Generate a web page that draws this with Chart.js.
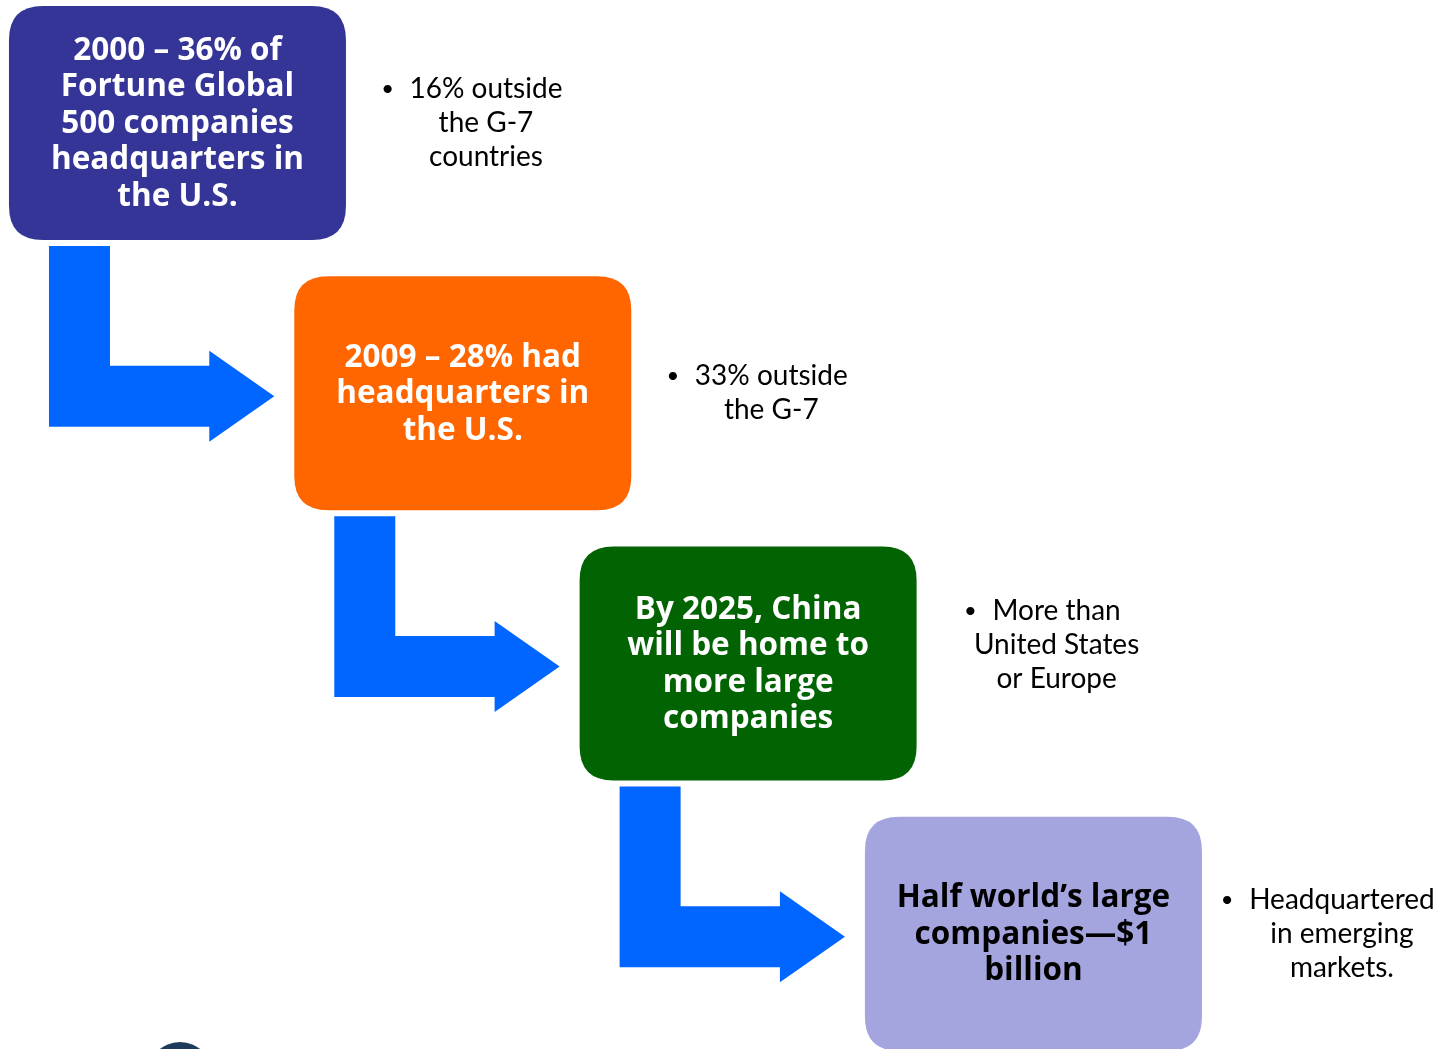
<!DOCTYPE html>
<html>
<head>
<meta charset="utf-8">
<script src="https://cdn.jsdelivr.net/npm/chart.js@4"></script>
<style>
    html, body { margin: 0; padding: 0; background: #ffffff; }
    #chart { display: block; }
</style>
</head>
<body>
<canvas id="chart" width="1448" height="1049"></canvas>
<script>
// Steps of the diagram (one box per step)
const steps = [0, 1, 2, 3];

// Text inside each box
const boxLines = [
    ["2000 \u2013 36% of", "Fortune Global", "500 companies", "headquarters in", "the U.S."],
    ["2009 \u2013 28% had", "headquarters in", "the U.S."],
    ["By 2025, China", "will be home to", "more large", "companies"],
    ["Half world\u2019s large", "companies\u2014$1", "billion"]
];

// Bullet note beside each box
const noteLines = [
    ["16% outside", "the G-7", "countries"],
    ["33% outside", "the G-7"],
    ["More than", "United States", "or Europe"],
    ["Headquartered", "in emerging", "markets."]
];

// Styling
const boxFill = ["#353598", "#ff6600", "#026302", "#a4a4de"];
const boxText = ["#ffffff", "#ffffff", "#ffffff", "#000000"];
const arrowColor = "#0066ff";
const BOX_W = 337, BOX_H = 234, RADIUS = 34;
const BOX_FONT = "bold 31.5px 'Open Sans', Lato, sans-serif";
const NOTE_FONT = "28px Lato, 'Open Sans', sans-serif";

document.addEventListener("DOMContentLoaded", () => {
    const canvas = document.getElementById("chart");

    function roundRect(ctx, x, y, w, h, r) {
        ctx.beginPath();
        ctx.moveTo(x + r, y);
        ctx.lineTo(x + w - r, y);
        ctx.quadraticCurveTo(x + w, y, x + w, y + r);
        ctx.lineTo(x + w, y + h - r);
        ctx.quadraticCurveTo(x + w, y + h, x + w - r, y + h);
        ctx.lineTo(x + r, y + h);
        ctx.quadraticCurveTo(x, y + h, x, y + h - r);
        ctx.lineTo(x, y + r);
        ctx.quadraticCurveTo(x, y, x + r, y);
        ctx.closePath();
    }

    // Draws the bent arrows, boxes and notes at the step positions given by the scales
    const flowPlugin = {
        id: "flow",
        afterDatasetsDraw(chart) {
            const ctx = chart.ctx;
            const xs = chart.scales.x, ys = chart.scales.y;
            const pts = steps.map(s => ({ x: xs.getPixelForValue(s), y: ys.getPixelForValue(s) }));

            ctx.save();

            // arrows
            ctx.fillStyle = arrowColor;
            for (let i = 0; i < pts.length - 1; i++) {
                const left = pts[i].x - BOX_W / 2 + 40;
                const top = pts[i].y + BOX_H / 2 + 6;
                const ay = pts[i + 1].y + 3;
                const nextLeft = pts[i + 1].x - BOX_W / 2;
                const back = nextLeft - 85, tip = nextLeft - 20;
                ctx.beginPath();
                ctx.moveTo(left, top);
                ctx.lineTo(left + 61, top);
                ctx.lineTo(left + 61, ay - 30.5);
                ctx.lineTo(back, ay - 30.5);
                ctx.lineTo(back, ay - 45.5);
                ctx.lineTo(tip, ay);
                ctx.lineTo(back, ay + 45.5);
                ctx.lineTo(back, ay + 30.5);
                ctx.lineTo(left, ay + 30.5);
                ctx.closePath();
                ctx.fill();
            }

            // boxes
            pts.forEach((p, i) => {
                roundRect(ctx, p.x - BOX_W / 2, p.y - BOX_H / 2, BOX_W, BOX_H, RADIUS);
                ctx.fillStyle = boxFill[i];
                ctx.fill();

                ctx.fillStyle = boxText[i];
                ctx.font = BOX_FONT;
                ctx.textAlign = "center";
                ctx.textBaseline = "middle";
                const lines = boxLines[i];
                const lh = 36.5;
                lines.forEach((t, k) => {
                    ctx.fillText(t, p.x, p.y + 1 + (k - (lines.length - 1) / 2) * lh);
                });

                // note
                const note = noteLines[i];
                const nx = p.x + BOX_W / 2 + 140;
                const nOff = i === 2 ? -19 : 0;
                ctx.fillStyle = "#000000";
                ctx.font = NOTE_FONT;
                note.forEach((t, k) => {
                    const ny = p.y + nOff + (k - (note.length - 1) / 2) * 34;
                    ctx.fillText(t, nx, ny);
                    if (k === 0) {
                        const w = ctx.measureText(t).width;
                        ctx.font = "22px Lato, sans-serif";
                        ctx.fillText("\u2022", nx - w / 2 - 22, ny);
                        ctx.font = NOTE_FONT;
                    }
                });
            });

            // partial logo at the bottom edge
            ctx.fillStyle = "#1f3b5c";
            ctx.beginPath();
            ctx.ellipse(180, 1078, 34, 36, 0, 0, Math.PI * 2);
            ctx.fill();

            ctx.restore();
        }
    };

    new Chart(canvas.getContext("2d"), {
        type: "scatter",
        data: {
            datasets: [{
                label: "Steps",
                data: steps.map(s => ({ x: s, y: s })),
                pointRadius: 0
            }]
        },
        options: {
            responsive: false,
            animation: false,
            layout: { padding: 0 },
            plugins: {
                legend: { display: false },
                tooltip: { enabled: false }
            },
            scales: {
                x: { type: "linear", display: false, min: -0.622, max: 4.453 },
                y: { type: "linear", display: false, min: -0.455, max: 3.426, reverse: true }
            }
        },
        plugins: [flowPlugin]
    });
});
</script>
</body>
</html>
